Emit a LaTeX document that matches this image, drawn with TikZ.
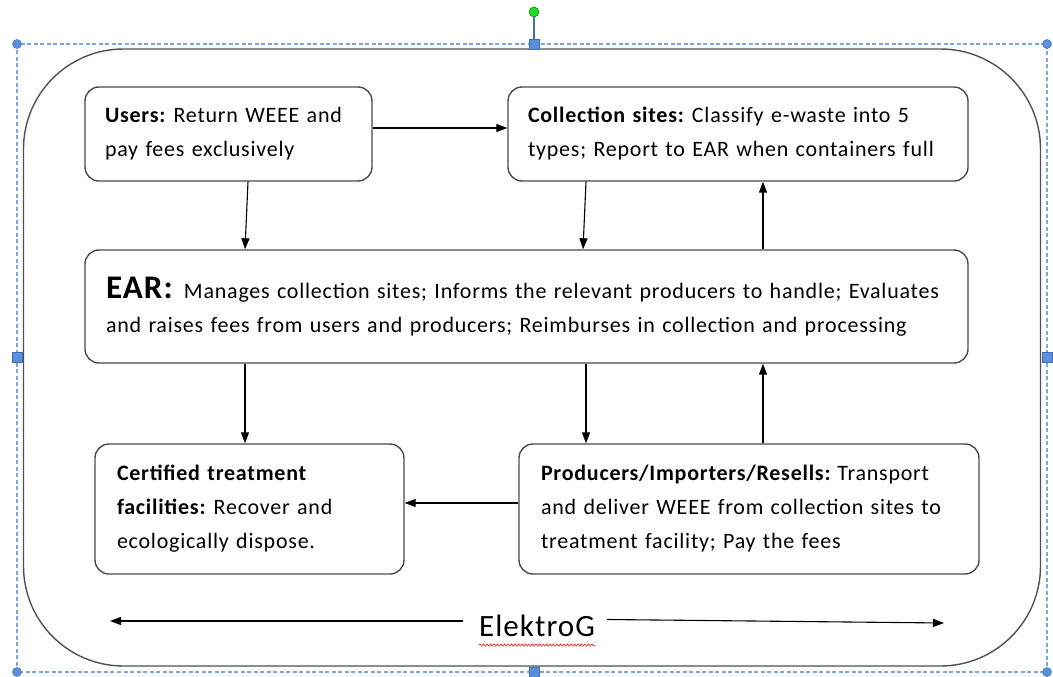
\documentclass[tikz,border=0pt]{standalone}
\usepackage{fontspec}
\setmainfont{Carlito}[LetterSpace=3.5, WordSpace=0.85]
\usetikzlibrary{arrows.meta,decorations.pathmorphing}
\definecolor{boxgray}{HTML}{4A4A4A}
\definecolor{framegray}{HTML}{505050}
\definecolor{selblue}{HTML}{7AA6E8}
\definecolor{handleblue}{HTML}{5B8FDB}
\definecolor{handleedge}{HTML}{3F6FB8}
\definecolor{rotgreen}{HTML}{22DD22}
\begin{document}
\frenchspacing
\begin{tikzpicture}[x=1pt,y=-1pt,
  box/.style={draw=boxgray, line width=1.4pt, rounded corners=14pt, align=left,
    inner xsep=20pt, inner ysep=0pt, font=\fontsize{22}{34}\selectfont, anchor=center},
  arr/.style={-{Triangle[length=11pt,width=8pt]}, line width=1.1pt},
  handlesq/.style={fill=handleblue, draw=handleedge, line width=0.6pt},
]
\useasboundingbox (0,0) rectangle (1053,677);

% selection frame (screenshot artefacts)
\draw[selblue, line width=1.1pt, dash pattern=on 4pt off 2.5pt] (17,44) rectangle (1047,672);

% outer rounded frame
\node[draw=framegray, line width=1.4pt, rounded corners=100pt, minimum width=1017pt,
  minimum height=617pt, inner sep=0pt] (frame) at (532,357.5) {};

% boxes
\node[box, text width=247pt, minimum height=94pt] (users) at (228.5,134)
  {\textbf{Users:} Return WEEE and\\pay fees exclusively};
\node[box, text width=420pt, minimum height=94pt] (coll) at (738,134)
  {\textbf{Collection sites:} Classify e-waste into 5\\types; Report to EAR when containers full};
\node[box, text width=841pt, inner xsep=21pt, minimum height=113pt] (ear) at (526.5,306.5)
  {{\fontsize{33}{34}\selectfont\textbf{EAR:}}\hspace{10pt}Manages collection sites; Informs the relevant producers to handle; Evaluates\\and raises fees from users and producers; Reimburses in collection and processing};
\node[box, text width=265pt, inner xsep=22pt, minimum height=130pt] (cert) at (249.5,509)
  {\textbf{Certified treatment}\\\textbf{facilities:} Recover and\\ecologically dispose.};
\node[box, text width=416pt, inner xsep=22pt, minimum height=130pt] (prod) at (749,509)
  {\textbf{Producers/Importers/Resells:}\hspace{6pt}Transport\\and deliver WEEE from collection sites to\\treatment facility; Pay the fees};

% connectors
\draw[arr] ([yshift=6pt]users.east) -- ([yshift=6pt]coll.west);
\draw[arr] ([xshift=19.5pt]users.south) -- ([xshift=-281.5pt]ear.north);
\draw[arr] ([xshift=-152pt]coll.south) -- ([xshift=56.5pt]ear.north);
\draw[arr] ([xshift=236.5pt]ear.north) -- ([xshift=25pt]coll.south);
\draw[arr] ([xshift=-281.5pt]ear.south) -- ([xshift=-4.5pt]cert.north);
\draw[arr] ([xshift=59.5pt]ear.south) -- ([xshift=-163pt]prod.north);
\draw[arr] ([xshift=14pt]prod.north) -- ([xshift=236.5pt]ear.south);
\draw[arr] ([yshift=6pt]prod.west) -- ([yshift=6pt]cert.west -| cert.east);

% ElektroG
\node[font=\fontsize{31}{34}\selectfont, inner sep=0pt] (elektro) at (537,626) {ElektroG};
\coordinate (lstart) at (463,621);
\coordinate (leftend) at (110,621);
\coordinate (rstart) at (607,619.5);
\coordinate (rightend) at (944,623);
\draw[arr] (lstart) -- (leftend);
\draw[arr] (rstart) -- (rightend);
\draw[red!85!white, line width=0.7pt, decorate, decoration={snake, amplitude=1.1pt, segment length=3.5pt}]
  ([yshift=-8pt]elektro.south west) -- ([yshift=-8pt]elektro.south east);

% handles
\draw[handleedge, line width=1.2pt] (534,13) -- (534,44);
\filldraw[fill=rotgreen, draw=green!50!black, line width=0.5pt] (534,12) circle (5pt);
\foreach \p in {(17,44),(1047,44),(17,672),(1047,672)}
  \filldraw[fill=handleblue, draw=handleedge, line width=0.5pt] \p circle (4.5pt);
\foreach \p in {(534,44),(534,672),(17,357),(1047,357)}
  \filldraw[handlesq] \p ++(-5,-5) rectangle ++(10,10);
\end{tikzpicture}
\end{document}
